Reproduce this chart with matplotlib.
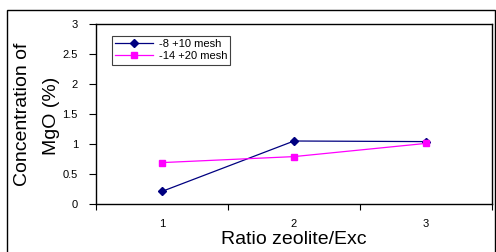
import matplotlib
matplotlib.use("Agg")
import matplotlib.pyplot as plt
from matplotlib.patches import Rectangle

categories = ["1", "2", "3"]
series_names = ["-8 +10 mesh", "-14 +20 mesh"]
mesh_8_10 = [0.21, 1.05, 1.04]
mesh_14_20 = [0.69, 0.79, 1.01]
y_ticks = [0, 0.5, 1, 1.5, 2, 2.5, 3]
y_tick_labels = ["0", "0.5", "1", "1.5", "2", "2.5", "3"]

plt.rcParams['font.family'] = ['Liberation Sans', 'DejaVu Sans']

W, H = 496, 252
fig = plt.figure(figsize=(W / 100, H / 100), dpi=100)
fig.patch.set_facecolor('white')

# outer chart frame
fig.patches.append(Rectangle((7 / W, -0.2), (495 - 7) / W, (252 - 10) / H + 0.2,
                             transform=fig.transFigure, fill=False,
                             edgecolor='black', linewidth=1.0))

left, right, top, bottom = 96, 492, 24, 204
ax = fig.add_axes([left / W, 1 - bottom / H, (right - left) / W, (bottom - top) / H])

x = list(range(1, len(categories) + 1))
ax.plot(x, mesh_8_10, color='#000080', marker='D', markersize=4.5, linewidth=0.9,
        label=series_names[0])
ax.plot(x, mesh_14_20, color='#FF00FF', marker='s', markersize=5, linewidth=0.9,
        label=series_names[1])

ax.set_xlim(0.5, len(categories) + 0.5)
ax.set_ylim(0, 3)

ax.set_yticks(y_ticks)
ax.set_yticklabels(y_tick_labels)
ax.tick_params(axis='y', direction='out', length=5, width=0.8, pad=8, labelsize=8)

ax.set_xticks([i + 0.5 for i in range(0, len(categories) + 1)])
ax.set_xticklabels([])
ax.tick_params(axis='x', which='major', direction='out', length=4, width=0.8)
ax.set_xticks(x, minor=True)
ax.set_xticklabels(categories, minor=True)
ax.tick_params(axis='x', which='minor', length=0, pad=11, labelsize=8)

for s in ax.spines.values():
    s.set_linewidth(1.0)
    s.set_color('black')

leg = ax.legend(loc='upper left', bbox_to_anchor=(0.04, 0.935), fontsize=8,
                frameon=True, fancybox=False, edgecolor='#404040', framealpha=1,
                handlelength=3.4, handletextpad=0.5, borderpad=0.3,
                labelspacing=0.2, borderaxespad=0)
leg.get_frame().set_linewidth(0.8)

fig.text(23 / W, 1 - 114 / H, "Concentration of", rotation=90, ha='center', va='center',
         fontsize=14)
fig.text(52 / W, 1 - 116 / H, "MgO (%)", rotation=90, ha='center', va='center',
         fontsize=14)
fig.text(294 / W, 1 - 240 / H, "Ratio zeolite/Exc", ha='center', va='center',
         fontsize=14)

fig.savefig("out.png", dpi=100, facecolor='white')
